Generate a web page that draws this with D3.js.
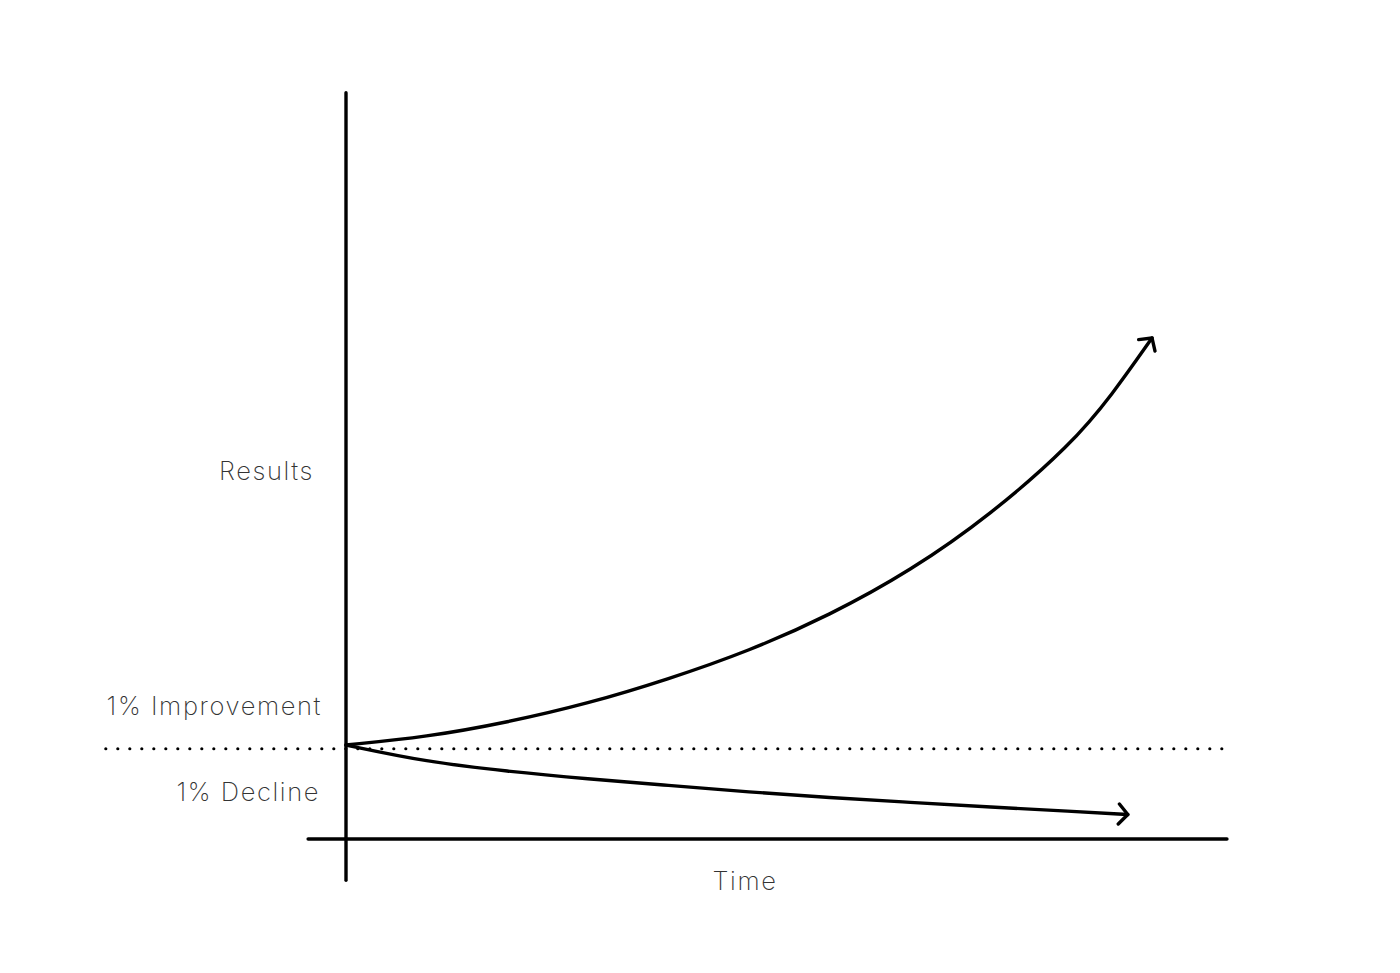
<!DOCTYPE html>
<html>
<head>
<meta charset="utf-8">
<script src="https://cdn.jsdelivr.net/npm/d3@7"></script>
<style>
  html, body { margin: 0; padding: 0; background: #fff; }
  svg { display: block; }
  text { font-family: Inter, "Open Sans", sans-serif; font-weight: 200; fill: #333; letter-spacing: 1.6px; }
</style>
</head>
<body>
<svg id="chart" width="1400" height="973"></svg>
<script>
// ---- data (time in arbitrary units, results in arbitrary units) ----
const timeImprove = [0, 10, 20, 30, 40, 50, 60, 70, 80, 90, 95, 100];
const improve     = [1.0, 1.085, 1.24, 1.44, 1.70, 2.0, 2.38, 2.85, 3.45, 4.2, 4.72, 5.33];
const timeDecline = [0, 10, 20, 30, 40, 50, 60, 70, 80, 90, 97];
const decline     = [1.0, 0.82, 0.72, 0.64, 0.57, 0.5, 0.44, 0.39, 0.34, 0.295, 0.26];
const baselineValue = 0.96;
const baselineSpan = [-29.8, 108.8];
const xAxisSpan = [-4.7, 109.3];
const yAxisSpan = [-0.44, 7.94];
const labels = ["Results", "1% Improvement", "1% Decline", "Time"];

const svg = d3.select("#chart");
const x = d3.scaleLinear().domain([0, 100]).range([346, 1152]);
const y = d3.scaleLinear().domain([0, 8]).range([839, 87]);
const SW = 3.4;

// arrow markers
const defs = svg.append("defs");
defs.append("marker")
  .attr("id", "arrow")
  .attr("viewBox", "-14 -12 18 24")
  .attr("refX", 0).attr("refY", 0)
  .attr("markerWidth", 18).attr("markerHeight", 24)
  .attr("markerUnits", "userSpaceOnUse")
  .attr("orient", "auto")
  .append("path")
  .attr("d", "M-9,-10 L0,0 L-9,10")
  .attr("fill", "none").attr("stroke", "#000")
  .attr("stroke-width", SW).attr("stroke-linecap", "round").attr("stroke-linejoin", "round");

// dotted baseline
svg.append("line")
  .attr("x1", x(baselineSpan[0])).attr("x2", x(baselineSpan[1]))
  .attr("y1", y(baselineValue)).attr("y2", y(baselineValue))
  .attr("stroke", "#000").attr("stroke-width", 3.2)
  .attr("stroke-linecap", "round").attr("stroke-dasharray", "0 12");

// axes
svg.append("line")
  .attr("x1", x(xAxisSpan[0])).attr("x2", x(xAxisSpan[1]))
  .attr("y1", y(0)).attr("y2", y(0))
  .attr("stroke", "#000").attr("stroke-width", SW).attr("stroke-linecap", "round");
svg.append("line")
  .attr("x1", x(0)).attr("x2", x(0))
  .attr("y1", y(yAxisSpan[0])).attr("y2", y(yAxisSpan[1]))
  .attr("stroke", "#000").attr("stroke-width", SW).attr("stroke-linecap", "round");

// curves
const line = d3.line().x(d => x(d[0])).y(d => y(d[1])).curve(d3.curveBasis);
svg.append("path")
  .datum(d3.zip(timeImprove, improve))
  .attr("d", line)
  .attr("fill", "none").attr("stroke", "#000").attr("stroke-width", SW)
  .attr("stroke-linecap", "round")
  .attr("marker-end", "url(#arrow)");
svg.append("path")
  .datum(d3.zip(timeDecline, decline))
  .attr("d", line)
  .attr("fill", "none").attr("stroke", "#000").attr("stroke-width", SW)
  .attr("stroke-linecap", "round")
  .attr("marker-end", "url(#arrow)");

// labels
const fs = 25.5;
svg.append("text").attr("x", 314).attr("y", 480).attr("text-anchor", "end")
  .attr("font-size", fs).text(labels[0]);
svg.append("text").attr("x", 322).attr("y", 715).attr("text-anchor", "end")
  .attr("font-size", fs).text(labels[1]);
svg.append("text").attr("x", 320).attr("y", 801).attr("text-anchor", "end")
  .attr("font-size", fs).text(labels[2]);
svg.append("text").attr("x", 745).attr("y", 890).attr("text-anchor", "middle")
  .attr("font-size", fs).text(labels[3]);
</script>
</body>
</html>
